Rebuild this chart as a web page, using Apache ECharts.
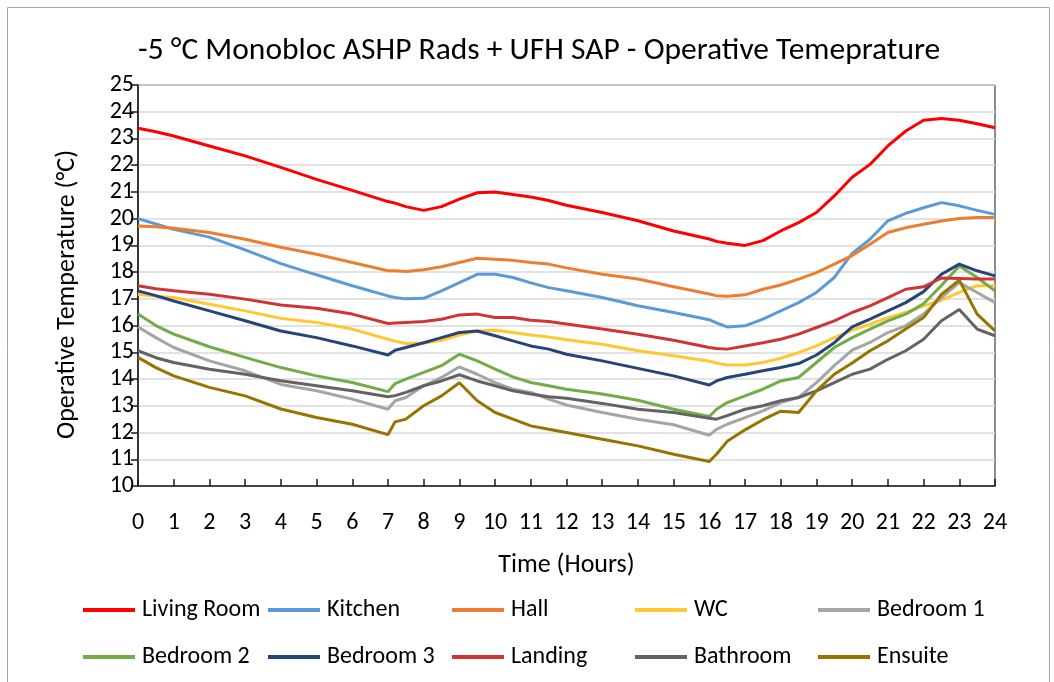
<!DOCTYPE html>
<html>
<head>
<meta charset="utf-8">
<title>Operative Temperature</title>
<script src="https://cdn.jsdelivr.net/npm/echarts@6/dist/echarts.min.js"></script>
<style>
  html, body { margin: 0; padding: 0; background: #fff; }
  #chart { width: 1054px; height: 682px; }
</style>
</head>
<body>
<div id="chart"></div>
<script>
// Time of day (hours) shared by every room series
const hours = [0, 0.5, 1, 2, 3, 4, 5, 6, 7, 7.2, 7.5, 8, 8.5, 9, 9.5, 10, 10.5, 11, 11.5, 12,
  13, 14, 15, 16, 16.2, 16.5, 17, 17.5, 18, 18.5, 19, 19.5, 20, 20.5, 21, 21.5, 22, 22.5, 23, 23.5, 24];

// Operative temperature per room (°C)
const livingRoom = [23.38, 23.25, 23.09, 22.72, 22.35, 21.92, 21.47, 21.06, 20.64, 20.58, 20.45, 20.31, 20.45, 20.73, 20.97, 21.0, 20.9, 20.81, 20.68, 20.5,
  20.23, 19.92, 19.54, 19.24, 19.15, 19.08, 19.0, 19.18, 19.54, 19.85, 20.23, 20.85, 21.55, 22.03, 22.72, 23.28, 23.68, 23.75, 23.68, 23.55, 23.4];
const kitchen = [20.0, 19.8, 19.6, 19.31, 18.83, 18.32, 17.9, 17.49, 17.11, 17.05, 17.0, 17.02, 17.3, 17.61, 17.92, 17.92, 17.8, 17.6, 17.42, 17.3,
  17.05, 16.74, 16.49, 16.22, 16.1, 15.95, 15.99, 16.24, 16.55, 16.86, 17.24, 17.8, 18.7, 19.23, 19.92, 20.2, 20.41, 20.6, 20.48, 20.31, 20.16];
const hall = [19.73, 19.7, 19.64, 19.48, 19.23, 18.93, 18.67, 18.36, 18.05, 18.05, 18.02, 18.09, 18.2, 18.36, 18.52, 18.48, 18.44, 18.36, 18.3, 18.16,
  17.92, 17.74, 17.45, 17.18, 17.12, 17.1, 17.15, 17.36, 17.52, 17.74, 17.98, 18.3, 18.62, 19.04, 19.48, 19.66, 19.79, 19.91, 20.01, 20.04, 20.04];
const wc = [17.17, 17.1, 17.05, 16.8, 16.55, 16.27, 16.12, 15.87, 15.49, 15.42, 15.33, 15.35, 15.45, 15.65, 15.8, 15.83, 15.74, 15.65, 15.57, 15.47,
  15.3, 15.06, 14.87, 14.67, 14.6, 14.53, 14.53, 14.62, 14.78, 14.99, 15.24, 15.55, 15.83, 16.05, 16.3, 16.49, 16.74, 16.95, 17.24, 17.49, 17.49];
const bedroom1 = [15.95, 15.55, 15.18, 14.68, 14.31, 13.8, 13.56, 13.25, 12.87, 13.19, 13.31, 13.75, 14.06, 14.46, 14.18, 13.87, 13.62, 13.5, 13.25, 13.03,
  12.75, 12.5, 12.29, 11.9, 12.12, 12.31, 12.56, 12.81, 13.12, 13.31, 13.87, 14.5, 15.08, 15.37, 15.74, 15.99, 16.43, 17.05, 17.61, 17.24, 16.86];
const bedroom2 = [16.43, 16.0, 15.68, 15.21, 14.81, 14.43, 14.12, 13.87, 13.53, 13.83, 14.0, 14.25, 14.5, 14.93, 14.68, 14.37, 14.08, 13.87, 13.75, 13.62,
  13.44, 13.21, 12.87, 12.6, 12.87, 13.12, 13.37, 13.62, 13.93, 14.06, 14.62, 15.18, 15.55, 15.87, 16.18, 16.43, 16.82, 17.5, 18.23, 17.8, 17.3];
const bedroom3 = [17.3, 17.12, 16.92, 16.55, 16.18, 15.8, 15.55, 15.24, 14.9, 15.08, 15.18, 15.36, 15.55, 15.74, 15.8, 15.62, 15.43, 15.24, 15.12, 14.93,
  14.68, 14.4, 14.12, 13.78, 13.93, 14.06, 14.18, 14.31, 14.43, 14.58, 14.9, 15.36, 15.95, 16.24, 16.55, 16.86, 17.27, 17.92, 18.3, 18.05, 17.86];
const landing = [17.49, 17.38, 17.3, 17.17, 16.99, 16.77, 16.65, 16.43, 16.08, 16.1, 16.12, 16.15, 16.24, 16.4, 16.43, 16.3, 16.3, 16.2, 16.15, 16.06,
  15.87, 15.68, 15.45, 15.18, 15.14, 15.12, 15.24, 15.36, 15.49, 15.68, 15.93, 16.18, 16.49, 16.74, 17.05, 17.36, 17.45, 17.78, 17.76, 17.74, 17.74];
const bathroom = [15.06, 14.8, 14.62, 14.37, 14.18, 13.94, 13.75, 13.56, 13.34, 13.38, 13.5, 13.75, 13.93, 14.16, 13.93, 13.75, 13.56, 13.44, 13.34, 13.28,
  13.09, 12.87, 12.75, 12.53, 12.5, 12.63, 12.87, 13.0, 13.19, 13.31, 13.56, 13.87, 14.18, 14.37, 14.74, 15.06, 15.49, 16.18, 16.6, 15.87, 15.62];
const ensuite = [14.81, 14.43, 14.12, 13.69, 13.37, 12.88, 12.56, 12.31, 11.92, 12.4, 12.5, 13.0, 13.37, 13.86, 13.19, 12.75, 12.5, 12.25, 12.12, 12.0,
  11.75, 11.5, 11.19, 10.92, 11.19, 11.67, 12.1, 12.48, 12.8, 12.75, 13.56, 14.18, 14.6, 15.06, 15.43, 15.87, 16.3, 17.17, 17.7, 16.43, 15.8];

const roomNames = ['Living Room', 'Kitchen', 'Hall', 'WC', 'Bedroom 1',
  'Bedroom 2', 'Bedroom 3', 'Landing', 'Bathroom', 'Ensuite'];
const roomValues = [livingRoom, kitchen, hall, wc, bedroom1,
  bedroom2, bedroom3, landing, bathroom, ensuite];
const roomColors = ['#FF0000', '#5B9BD5', '#ED7D31', '#FFC833', '#A5A5A5',
  '#70AD47', '#264478', '#D03535', '#636363', '#997300'];

const xTicks = { min: 0, max: 24, interval: 1 };
const yTicks = { min: 10, max: 25, interval: 1 };

const FONT = 'Carlito, "Liberation Sans Narrow", "Open Sans", sans-serif';

const chart = echarts.init(document.getElementById('chart'), null, { renderer: 'canvas' });

// one legend block per room, laid out in a 5 x 2 table
const legendCols = [83, 268, 452, 635, 818];
const legendRows = [598, 645];
const legends = roomNames.map((name, i) => ({
  data: [name],
  left: legendCols[i % 5],
  top: legendRows[Math.floor(i / 5)],
  padding: 0,
  icon: 'rect',
  itemWidth: 52,
  itemHeight: 4,
  textStyle: { fontFamily: FONT, fontSize: 24, color: '#000', padding: [0, 0, 0, 2] }
}));

const series = roomNames.map((name, i) => ({
  name: name,
  type: 'line',
  symbol: 'none',
  showSymbol: false,
  color: roomColors[i],
  lineStyle: { width: 3, color: roomColors[i] },
  data: hours.map((h, k) => [h, roomValues[i][k]])
}));

chart.setOption({
  animation: false,
  backgroundColor: '#fff',
  textStyle: { fontFamily: FONT },
  graphic: [{
    type: 'rect',
    shape: { x: 7.5, y: 7.5, width: 1042, height: 700 },
    style: { fill: 'none', stroke: '#A6A6A6', lineWidth: 1 },
    silent: true
  }],
  title: {
    text: '-5 °C Monobloc ASHP Rads + UFH SAP - Operative Temeprature',
    left: 133,
    top: 30,
    textStyle: { fontFamily: FONT, fontSize: 31.5, fontWeight: 'normal', color: '#000' }
  },
  legend: legends,
  grid: {
    left: 138, right: 59, top: 85, bottom: 196,
    show: true, borderColor: '#1a1a1a', borderWidth: 1, backgroundColor: 'transparent'
  },
  xAxis: {
    type: 'value',
    min: xTicks.min, max: xTicks.max, interval: xTicks.interval,
    name: 'Time (Hours)',
    nameLocation: 'middle',
    nameGap: 66,
    nameTextStyle: { fontFamily: FONT, fontSize: 26, color: '#000' },
    axisLine: { show: true, lineStyle: { color: '#1a1a1a', width: 1.5 } },
    axisTick: { show: true, inside: true, length: 7, lineStyle: { color: '#1a1a1a', width: 1.5 } },
    axisLabel: { fontFamily: FONT, fontSize: 24, color: '#000', margin: 25 },
    splitLine: { show: false }
  },
  yAxis: {
    type: 'value',
    min: yTicks.min, max: yTicks.max, interval: yTicks.interval,
    name: 'Operative Temperature (°C)',
    nameLocation: 'middle',
    nameGap: 58,
    nameTextStyle: { fontFamily: FONT, fontSize: 26, color: '#000', padding: [0, 18, 0, 0] },
    axisLine: { show: true, lineStyle: { color: '#1a1a1a', width: 1.5 } },
    axisTick: { show: true, inside: false, length: 7, lineStyle: { color: '#1a1a1a', width: 1.5 } },
    axisLabel: { fontFamily: FONT, fontSize: 24, color: '#000', margin: 4 },
    splitLine: { show: true, lineStyle: { color: '#D9D9D9', width: 1.5 } }
  },
  series: series
});
</script>
</body>
</html>
